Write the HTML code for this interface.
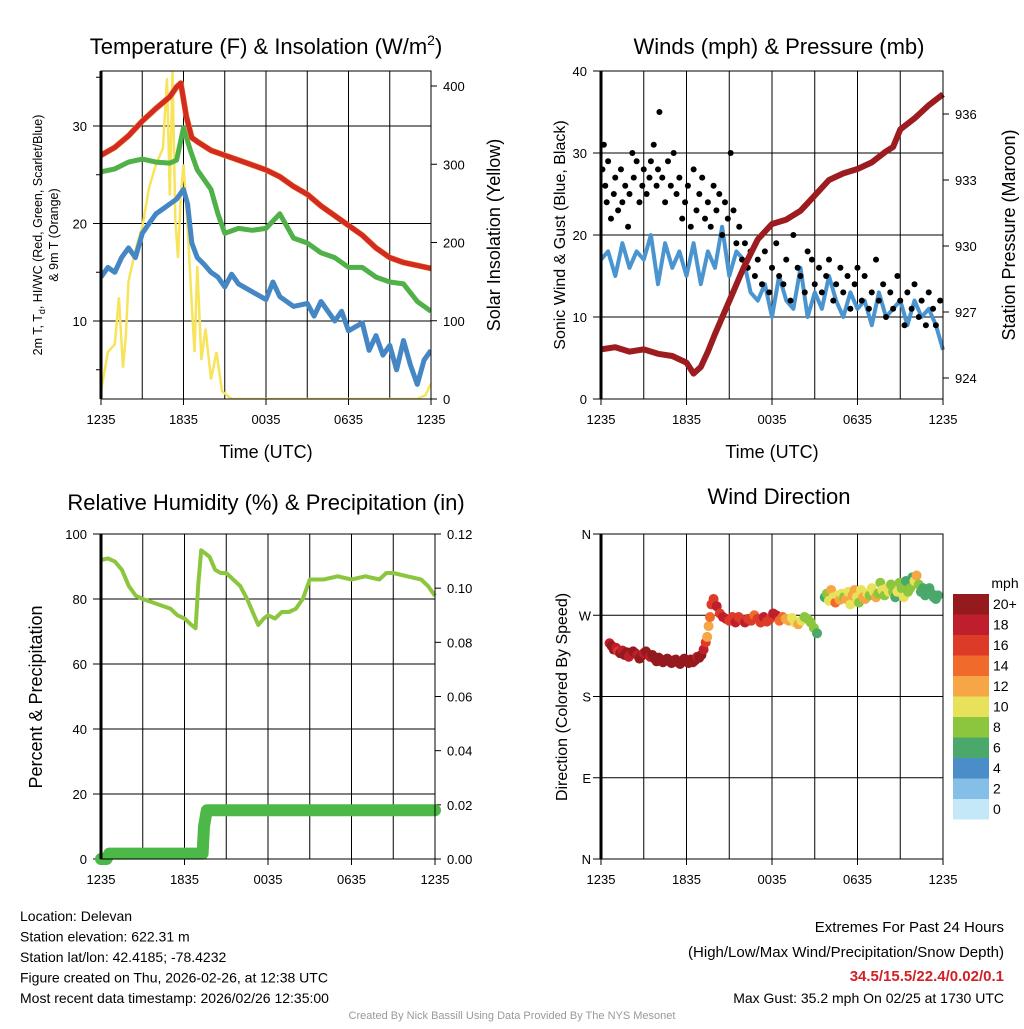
<!DOCTYPE html>
<html><head><meta charset="utf-8"><style>
body{margin:0;background:#fff;}
svg text{font-family:"Liberation Sans",sans-serif;fill:#000;}
</style></head><body>
<svg id="c" width="1024" height="1024" viewBox="0 0 1024 1024" xmlns="http://www.w3.org/2000/svg">
</svg>
<script>
// ---------- Panel 1 data (hours since 1235 UTC) ----------
const tempH=[0,1,2,3,4,5,5.5,5.8,6.2,6.6,7,8,9,10,11,12,13,14,15,16,17,18,19,20,21,22,23,24];
const tempV=[27,27.8,29,30.5,31.8,33,34,34.4,31,28.8,28.4,27.5,27,26.5,26,25.5,24.8,23.8,23,21.8,20.8,19.8,18.8,17.5,16.5,16,15.7,15.4];
const greenH=[0,1,2,3,4,5,5.5,6,6.5,7,7.5,8,8.5,9,10,11,12,13,14,15,16,17,18,19,20,21,22,23,24];
const greenV=[25.3,25.6,26.3,26.6,26.3,26.2,26.5,29.8,27.5,25.5,24.5,23.5,21,19,19.5,19.3,19.5,21,18.5,18,17,16.5,15.5,15.5,14.5,14,13.8,12,11];
const dewH=[0,0.5,1,1.5,2,2.5,3,3.5,4,4.5,5,5.5,6,6.3,6.6,7,7.5,8,8.5,9,9.5,10,11,12,12.5,13,14,15,15.5,16,17,17.5,18,19,19.5,20,20.5,21,21.5,22,22.5,23,23.5,24];
const dewV=[14.5,15.5,15,16.5,17.5,16.5,19,20,21,21.5,22,22.5,23.5,22,18,16.5,15.8,15,14.5,13.5,14.8,13.8,13,12.2,14,12.5,11.5,11.8,10.5,12,10,11,9,9.8,7,8.5,6.5,7.5,5,8,5.5,3.5,6,7];
const solarH=[0,0.5,1,1.3,1.6,1.8,2,2.5,3,3.5,4,4.5,4.8,5,5.2,5.4,5.6,5.8,6,6.3,6.6,6.8,7,7.3,7.6,8,8.4,8.8,9.5,12,16,20,23,23.6,24];
const solarV=[10,60,70,130,40,80,150,190,220,270,300,320,410,260,420,230,180,260,300,220,120,60,170,50,90,25,60,10,0,0,0,0,0,5,20];
// ---------- Panel 2 data ----------
const windH=[0,0.5,1,1.5,2,2.5,3,3.5,4,4.5,5,5.5,6,6.5,7,7.5,8,8.5,9,9.5,10,10.5,11,11.5,12,12.5,13,13.5,14,14.5,15,15.5,16,16.5,17,17.5,18,18.5,19,19.5,20,20.5,21,21.5,22,22.5,23,23.5,24];
const windV=[17,18,15,19,16,18,17,20,14,19,16,18,15,19,14,18,16,21,15,18,17,13,12,14,10,15,12,11,16,10,13,11,15,12,10,13,11,12,9,13,10,11,12,9,12,10,11,9,6];
const presH=[0,1,2,3,4,5,6,6.5,7,7.5,8,9,10,11,12,13,14,15,16,17,18,19,20,20.5,21,22,23,24];
const presV=[925.3,925.4,925.2,925.3,925.1,925,924.7,924.2,924.5,925.2,926,927.5,929,930.3,931,931.2,931.6,932.3,933,933.3,933.5,933.8,934.3,934.5,935.3,935.8,936.4,936.9];
const gustH=[0.1,0.2,0.3,0.4,0.5,0.7,0.9,1.0,1.2,1.4,1.5,1.7,1.9,2.0,2.2,2.3,2.5,2.7,2.9,3.0,3.2,3.4,3.5,3.7,3.9,4.0,4.1,4.3,4.5,4.7,4.9,5.1,5.3,5.5,5.7,5.9,6.1,6.3,6.5,6.7,6.9,7.1,7.3,7.5,7.7,7.9,8.1,8.3,8.5,8.7,8.9,9.1,9.3,9.5,9.7,9.9,10.1,10.3,10.5,10.8,11,11.3,11.5,11.8,12,12.3,12.5,12.8,13,13.3,13.5,13.8,14,14.3,14.5,14.8,15,15.3,15.5,15.8,16,16.3,16.5,16.8,17,17.3,17.5,17.8,18,18.3,18.5,18.8,19,19.3,19.5,19.8,20,20.3,20.5,20.8,21,21.3,21.5,21.8,22,22.3,22.5,22.8,23,23.3,23.5,23.8];
const gustV=[28,31,26,24,29,22,25,27,23,28,24,26,21,25,30,27,29,24,26,28,25,27,29,31,26,28,35,27,24,29,26,30,25,27,22,24,26,21,28,23,25,27,22,24,21,26,23,25,20,24,22,30,23,19,21,17,19,16,18,15,17,14,18,13,16,19,15,14,17,12,20,16,15,13,18,17,14,16,13,15,17,12,14,16,13,15,11,14,16,12,15,11,13,17,12,14,10,13,11,15,12,9,13,11,14,10,12,9,13,11,9,12];
// ---------- Panel 3 data ----------
const rhH=[0,0.5,1,1.5,2,2.5,3,4,5,5.5,6,6.5,6.8,7,7.2,7.5,7.8,8.2,8.6,9,9.5,10,10.5,11,11.3,11.7,12,12.5,13,13.5,14,14.5,15,16,17,18,19,20,20.5,21,22,23,23.5,24];
const rhV=[92,92.5,91.5,89,84,81,80,78.5,77,75,74,72,71,85,95,94,93,89,88,88,86,84,80,75,72,74,75,74,76,76,77,80,86,86,87,86,87,86,88,88,87,86,84,81];
const prH=[0,0.4,0.6,1,7.3,7.4,7.6,24];
const prV=[0,0,0.002,0.002,0.002,0.012,0.018,0.018];
// ---------- Panel 4 data ----------
const dirH=[0.6,0.75,0.9,1.05,1.2,1.35,1.5,1.65,1.8,1.95,2.1,2.25,2.4,2.55,2.7,2.85,3.0,3.15,3.3,3.45,3.6,3.75,3.9,4.05,4.2,4.35,4.5,4.65,4.8,4.95,5.1,5.25,5.4,5.55,5.7,5.85,6.0,6.15,6.3,6.45,6.6,6.75,6.9,7.05,7.2,
7.35,7.45,7.55,7.65,7.75,
7.9,8.12,8.34,8.56,8.78,9.0,9.22,9.44,9.66,9.88,10.1,10.32,10.54,10.76,10.98,11.2,11.42,11.64,11.86,12.08,12.3,12.52,12.74,12.96,13.18,13.4,13.62,13.84,14.06,14.28,14.5,14.72,14.94,15.16,
15.7,15.85,16.0,16.15,16.3,16.45,16.6,16.75,16.9,17.05,17.2,17.35,17.5,17.65,17.8,17.95,18.1,18.25,18.4,18.55,18.7,18.85,19.0,19.15,19.3,19.45,19.6,19.75,19.9,20.05,20.2,20.35,20.5,20.65,20.8,20.95,21.1,21.25,21.4,21.55,21.7,21.85,22.0,22.15,22.3,22.45,22.6,22.75,22.9,23.05,23.2,23.35,23.5,23.65];
const dirD=[239,236,232,234,230,228,231,226,229,224,227,230,228,226,222,225,228,230,227,224,226,222,219,223,221,218,220,222,219,217,220,221,218,216,219,222,219,217,221,218,220,224,223,226,232,240,246,258,268,282,288,280,272,268,266,264,268,262,268,265,262,266,264,270,266,262,268,263,266,272,270,264,268,266,264,267,262,260,264,268,266,262,256,250,290,294,286,298,290,284,292,287,294,290,288,296,282,292,298,290,284,298,290,288,294,292,300,296,290,294,306,298,292,300,296,304,296,290,296,306,300,290,308,296,300,312,308,314,304,296,300,292,296,300,294,290,288,292];
const dirS=[19,20,21,19,17,20,19,21,20,18,19,21,20,18,21,20,19,20,21,19,21,22,21,22,20,21,22,21,22,22,21,22,21,22,22,20,21,22,22,21,21,19,20,21,18,16,12,13,14,17,16,18,17,19,18,16,17,18,17,16,18,17,16,15,17,16,18,17,16,19,18,15,14,13,12,11,10,12,11,9,8,8,9,7,7,9,10,12,11,14,10,12,11,9,12,11,10,13,12,10,9,11,13,12,10,9,10,11,12,9,8,10,9,11,10,9,8,7,10,9,8,11,7,9,8,7,10,12,9,7,6,7,6,7,6,6,7,7];
const cbLabels=["20+","18","16","14","12","10","8","6","4","2","0"];
const cbColors=["#951a1d","#bf1e2d","#de3a28","#ef6a2b","#f6a644","#e8e15a","#8cc63f","#4aa86a","#4a8dc8","#85bfe8","#c5e8f9"];

const NS="http://www.w3.org/2000/svg";
const svg=document.getElementById('c');
function el(tag,attrs,parent){const e=document.createElementNS(NS,tag);for(const k in attrs)e.setAttribute(k,attrs[k]);(parent||svg).appendChild(e);return e;}
function txt(s,x,y,size,anchor,parent,rot){const t=el('text',{x:x,y:y,'font-size':size,'text-anchor':anchor||'middle'},parent);if(rot)t.setAttribute('transform',`rotate(${rot} ${x} ${y})`);t.textContent=s;return t;}
function lin(d0,d1,r0,r1){return v=>r0+(v-d0)/(d1-d0)*(r1-r0);}
function pathFrom(xs,ys,fx,fy){return xs.map((h,i)=>(i?'L':'M')+fx(h).toFixed(1)+','+fy(ys[i]).toFixed(1)).join('');}
function frame(g,x0,x1,y0,y1,fx){
  for(let h=3;h<24;h+=3){const l=el('line',{x1:fx(h),x2:fx(h),y1:y0,y2:y1,stroke:'#000','stroke-width':1},g);}
  const xl=["1235","1835","0035","0635","1235"];
  xl.forEach((s,i)=>{const x=fx(i*6);el('line',{x1:x,x2:x,y1:y1,y2:y1+6,stroke:'#000'},g);const t=txt(s,x,y1+25,13,'middle',g);});
}
function hgrid(g,x0,x1,y){el('line',{x1:x0,x2:x1,y1:y,y2:y,stroke:'#000','stroke-width':1},g);}
function box(g,x0,x1,y0,y1){el('rect',{x:x0,y:y0,width:x1-x0,height:y1-y0,fill:'none',stroke:'#000','stroke-width':1},g);el('line',{x1:x0,x2:x0,y1:y0,y2:y1,stroke:'#000','stroke-width':3},g);}

// ===== Panel 1 =====
{
const g=el('g',{});
const X0=101,X1=431,Y0=71,Y1=399;
const fx=lin(0,24,X0,X1), fy=lin(10,30,321,126), fs=lin(0,400,399,86);
[10,20,30].forEach(v=>{hgrid(g,X0,X1,fy(v));el('line',{x1:X0-8,x2:X0,y1:fy(v),y2:fy(v),stroke:'#000'},g);txt(String(v),X0-14,fy(v)+5,13,'end',g);});
[5,15,25,35].forEach(v=>el('line',{x1:X0-5,x2:X0,y1:fy(v),y2:fy(v),stroke:'#000'},g));
[0,100,200,300,400].forEach(v=>{el('line',{x1:X1,x2:X1+6,y1:fs(v),y2:fs(v),stroke:'#000'},g);txt(String(v),X1+12,fs(v)+5,13,'start',g);});
frame(g,X0,X1,Y0,Y1,fx);
const cl=el('clipPath',{id:'cp1'},g);el('rect',{x:X0,y:Y0,width:X1-X0,height:Y1-Y0},cl);
const pg=el('g',{'clip-path':'url(#cp1)'},g);
let p=el('path',{d:pathFrom(solarH,solarV,fx,fs),fill:'none',stroke:'#f7e45a','stroke-width':2.5},pg);
p=el('path',{d:pathFrom(dewH,dewV,fx,fy),fill:'none',stroke:'#4487c4','stroke-width':5,'stroke-linejoin':'round'},pg);
p=el('path',{d:pathFrom(greenH,greenV,fx,fy),fill:'none',stroke:'#4fb148','stroke-width':5,'stroke-linejoin':'round'},pg);
p=el('path',{d:pathFrom(tempH,tempV,fx,fy),fill:'none',stroke:'#f0a030','stroke-width':6,'stroke-linejoin':'round'},pg);
p=el('path',{d:pathFrom(tempH,tempV,fx,fy),fill:'none',stroke:'#d42a24','stroke-width':5,'stroke-linejoin':'round'},pg);
box(g,X0,X1,Y0,Y1);
let t=el('text',{x:266,y:54,'font-size':22,'text-anchor':'middle'},g);t.innerHTML='Temperature (F) &amp; Insolation (W/m<tspan dy="-9" font-size="14">2</tspan><tspan dy="9">)</tspan>';
t=txt('Time (UTC)',266,458,18,'middle',g);
t=el('text',{x:42,y:235,'font-size':12.5,'text-anchor':'middle',transform:'rotate(-90 42 235)'},g);t.innerHTML='2m T, T<tspan dy="3" font-size="9">d</tspan><tspan dy="-3">, HI/WC (Red, Green, Scarlet/Blue)</tspan>';
t=txt('& 9m T (Orange)',58,235,12.5,'middle',g,-90);
t=txt('Solar Insolation (Yellow)',500,235,18,'middle',g,-90);
}
// ===== Panel 2 =====
{
const g=el('g',{});
const X0=601,X1=943,Y0=71,Y1=399;
const fx=lin(0,24,X0,X1), fy=lin(0,40,399,71), fp=lin(924,936,378,114);
[10,20,30].forEach(v=>hgrid(g,X0,X1,fy(v)));
[0,10,20,30,40].forEach(v=>{el('line',{x1:X0-8,x2:X0,y1:fy(v),y2:fy(v),stroke:'#000'},g);txt(String(v),X0-14,fy(v)+5,13,'end',g);});
[924,927,930,933,936].forEach(v=>{el('line',{x1:X1,x2:X1+6,y1:fp(v),y2:fp(v),stroke:'#000'},g);txt(String(v),X1+12,fp(v)+5,13,'start',g);});
frame(g,X0,X1,Y0,Y1,fx);
let p=el('path',{d:pathFrom(windH,windV,fx,fy),fill:'none',stroke:'#4a94d0','stroke-width':4,'stroke-linejoin':'round'},g);
gustH.forEach((h,i)=>{const c=el('circle',{cx:fx(h),cy:fy(gustV[i]),r:3,fill:'#000'},g);});
p=el('path',{d:pathFrom(presH,presV,fx,fp),fill:'none',stroke:'#9c1c1f','stroke-width':6,'stroke-linejoin':'round'},g);
box(g,X0,X1,Y0,Y1);
let t=txt('Winds (mph) & Pressure (mb)',779,54,22,'middle',g);
t=txt('Time (UTC)',772,458,18,'middle',g);
t=txt('Sonic Wind & Gust (Blue, Black)',565,235,16,'middle',g,-90);
t=txt('Station Pressure (Maroon)',1015,235,18,'middle',g,-90);
}
// ===== Panel 3 =====
{
const g=el('g',{});
const X0=101,X1=435,Y0=534,Y1=859;
const fx=lin(0,24,X0,X1), fy=lin(0,100,859,534), fr=lin(0,0.12,859,534);
[20,40,60,80].forEach(v=>hgrid(g,X0,X1,fy(v)));
[0,20,40,60,80,100].forEach(v=>{el('line',{x1:X0-8,x2:X0,y1:fy(v),y2:fy(v),stroke:'#000'},g);txt(String(v),X0-14,fy(v)+5,13,'end',g);});
[0,0.02,0.04,0.06,0.08,0.1,0.12].forEach(v=>{el('line',{x1:X1,x2:X1+6,y1:fr(v),y2:fr(v),stroke:'#000'},g);txt(v.toFixed(2),X1+12,fr(v)+5,13,'start',g);});
frame(g,X0,X1,Y0,Y1,fx);
let p=el('path',{d:pathFrom(prH,prV,fx,fr),fill:'none',stroke:'#4cb847','stroke-width':12,'stroke-linecap':'round','stroke-linejoin':'round'},g);
p=el('path',{d:pathFrom(rhH,rhV,fx,fy),fill:'none',stroke:'#8cc63f','stroke-width':4,'stroke-linejoin':'round'},g);
box(g,X0,X1,Y0,Y1);
let t=txt('Relative Humidity (%) & Precipitation (in)',266,510,22,'middle',g);
t=txt('Percent & Precipitation',42,697,18,'middle',g,-90);
}
// ===== Panel 4 =====
{
const g=el('g',{});
const X0=601,X1=943,Y0=534,Y1=859;
const fx=lin(0,24,X0,X1), fy=lin(0,360,859,534);
const lbl=['N','E','S','W','N'];
[0,90,180,270,360].forEach((v,i)=>{hgrid(g,X0-8,X1,fy(v));txt(lbl[i],X0-10,fy(v)+5,13,'end',g);});
frame(g,X0,X1,Y0,Y1,fx);
function col(s){const idx=Math.min(10,Math.max(0,10-Math.floor(s/2)));return cbColors[idx];}
dirH.forEach((h,i)=>{if(dirD[i]===undefined)return;const c=el('circle',{cx:fx(h),cy:fy(dirD[i]),r:5,fill:col(dirS[i])},g);});
box(g,X0,X1,Y0,Y1);
let t=txt('Wind Direction',779,504,22,'middle',g);
t=txt('Direction (Colored By Speed)',567,697,16,'middle',g,-90);
const lg=el('g',{},g);
txt('mph',1005,588,14,'middle',lg);
cbLabels.forEach((s,i)=>{const r=el('rect',{x:953,y:594+i*20.5,width:36,height:20.5,fill:cbColors[i]},lg);txt(s,993,609+i*20.5,14,'start',lg);});
}
// ===== Footer =====
{
const g=el('g',{});
const L=["Location: Delevan","Station elevation: 622.31 m","Station lat/lon: 42.4185; -78.4232","Figure created on Thu, 2026-02-26, at 12:38 UTC","Most recent data timestamp: 2026/02/26 12:35:00"];
L.forEach((s,i)=>txt(s,20,921+i*20.5,14,'start',g));
txt('Extremes For Past 24 Hours',1004,932,15,'end',g);
txt('(High/Low/Max Wind/Precipitation/Snow Depth)',1004,957,15,'end',g);
const e=txt('34.5/15.5/22.4/0.02/0.1',1004,981,15,'end',g);e.setAttribute('fill','#d12026');e.style.fill='#d12026';e.setAttribute('font-weight','bold');
txt('Max Gust: 35.2 mph On 02/25 at 1730 UTC',1004,1003,14,'end',g);
const c=txt('Created By Nick Bassill Using Data Provided By The NYS Mesonet',512,1019,11,'middle',g);c.style.fill='#999';
}
</script>
</body></html>
